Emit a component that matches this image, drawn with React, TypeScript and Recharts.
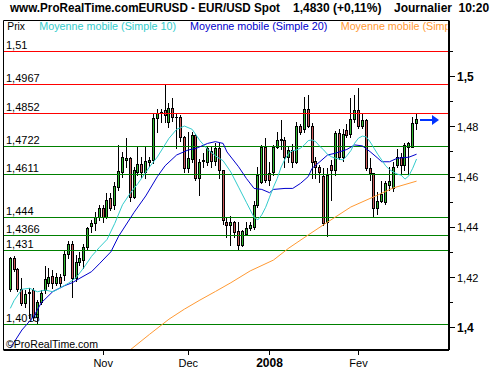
import React from 'react';
import { ComposedChart, Bar, Line, XAxis, YAxis, ReferenceLine, ReferenceDot } from 'recharts';

const FONT = '"Liberation Sans", Arial, sans-serif';

const dates = [
  '28/09/07',
  '01/10/07','02/10/07','03/10/07','04/10/07','05/10/07','08/10/07','09/10/07','10/10/07','11/10/07','12/10/07',
  '15/10/07','16/10/07','17/10/07','18/10/07','19/10/07','22/10/07','23/10/07','24/10/07','25/10/07','26/10/07',
  '29/10/07','30/10/07','31/10/07',
  '01/11/07','02/11/07','05/11/07','06/11/07','07/11/07','08/11/07','09/11/07','12/11/07','13/11/07','14/11/07',
  '15/11/07','16/11/07','19/11/07','20/11/07','21/11/07','22/11/07','23/11/07','26/11/07','27/11/07','28/11/07',
  '29/11/07','30/11/07',
  '03/12/07','04/12/07','05/12/07','06/12/07','07/12/07','10/12/07','11/12/07','12/12/07','13/12/07','14/12/07',
  '17/12/07','18/12/07','19/12/07','20/12/07','21/12/07','24/12/07','25/12/07','26/12/07','27/12/07','28/12/07',
  '31/12/07',
  '01/01/08','02/01/08','03/01/08','04/01/08','07/01/08','08/01/08','09/01/08','10/01/08','11/01/08','14/01/08',
  '15/01/08','16/01/08','17/01/08','18/01/08','21/01/08','22/01/08','23/01/08','24/01/08','25/01/08','28/01/08',
  '29/01/08','30/01/08','31/01/08',
  '01/02/08','04/02/08','05/02/08','06/02/08','07/02/08','08/02/08','11/02/08','12/02/08','13/02/08','14/02/08',
  '15/02/08','18/02/08','19/02/08','20/02/08','21/02/08','22/02/08',
];

const opens = [
  1.4155, 1.4280, 1.4234, 1.4154, 1.4100, 1.4138, 1.4150, 1.4045, 1.4105, 1.4150,
  1.4180, 1.4205, 1.4180, 1.4202, 1.4210, 1.4294, 1.4333, 1.4200, 1.4262, 1.4270,
  1.4323, 1.4405, 1.4419, 1.4443, 1.4476, 1.4443, 1.4518, 1.4490, 1.4562, 1.4621,
  1.4668, 1.4675, 1.4522, 1.4621, 1.4652, 1.4621, 1.4662, 1.4668, 1.4834, 1.4856,
  1.4866, 1.4820, 1.4874, 1.4840, 1.4840, 1.4761, 1.4635, 1.4671, 1.4767, 1.4595,
  1.4665, 1.4661, 1.4702, 1.4665, 1.4714, 1.4628, 1.4423, 1.4410, 1.4420, 1.4386,
  1.4330, 1.4374, 1.4398, 1.4403, 1.4489, 1.4582, 1.4721, 1.4615, 1.4621, 1.4718,
  1.4748, 1.4748, 1.4681, 1.4708, 1.4661, 1.4803, 1.4790, 1.4870, 1.4803, 1.4665,
  1.4641, 1.4604, 1.4423, 1.4648, 1.4628, 1.4777, 1.4681, 1.4787, 1.4770, 1.4830,
  1.4867, 1.4803, 1.4827, 1.4635, 1.4615, 1.4476, 1.4505, 1.4500, 1.4570, 1.4555,
  1.4648, 1.4681, 1.4648, 1.4721, 1.4721, 1.4814,
];

const highs = [
  1.4283, 1.4288, 1.4240, 1.4200, 1.4150, 1.4160, 1.4158, 1.4110, 1.4150, 1.4245,
  1.4240, 1.4230, 1.4220, 1.4215, 1.4310, 1.4345, 1.4345, 1.4290, 1.4303, 1.4335,
  1.4400, 1.4430, 1.4460, 1.4490, 1.4489, 1.4536, 1.4536, 1.4580, 1.4728, 1.4700,
  1.4754, 1.4680, 1.4640, 1.4721, 1.4680, 1.4721, 1.4680, 1.4850, 1.4870, 1.4870,
  1.4966, 1.4895, 1.4913, 1.4855, 1.4845, 1.4765, 1.4780, 1.4780, 1.4770, 1.4670,
  1.4695, 1.4725, 1.4725, 1.4735, 1.4735, 1.4630, 1.4440, 1.4445, 1.4425, 1.4420,
  1.4390, 1.4420, 1.4420, 1.4505, 1.4641, 1.4728, 1.4755, 1.4660, 1.4728, 1.4780,
  1.4827, 1.4760, 1.4720, 1.4730, 1.4820, 1.4810, 1.4920, 1.4926, 1.4815, 1.4680,
  1.4650, 1.4635, 1.4635, 1.4668, 1.4785, 1.4790, 1.4790, 1.4810, 1.4913, 1.4926,
  1.4953, 1.4850, 1.4830, 1.4675, 1.4615, 1.4540, 1.4585, 1.4585, 1.4640, 1.4660,
  1.4710, 1.4695, 1.4735, 1.4740, 1.4840, 1.4856,
];

const lows = [
  1.4148, 1.4225, 1.4148, 1.4090, 1.4085, 1.4040, 1.4030, 1.4015, 1.4095, 1.4140,
  1.4165, 1.4160, 1.4170, 1.4165, 1.4190, 1.4280, 1.4124, 1.4185, 1.4250, 1.4240,
  1.4310, 1.4380, 1.4390, 1.4430, 1.4423, 1.4436, 1.4470, 1.4475, 1.4550, 1.4600,
  1.4640, 1.4505, 1.4515, 1.4610, 1.4600, 1.4595, 1.4645, 1.4655, 1.4781, 1.4820,
  1.4820, 1.4800, 1.4825, 1.4714, 1.4745, 1.4620, 1.4620, 1.4660, 1.4588, 1.4529,
  1.4640, 1.4650, 1.4640, 1.4650, 1.4595, 1.4415, 1.4363, 1.4330, 1.4360, 1.4310,
  1.4325, 1.4370, 1.4390, 1.4395, 1.4480, 1.4575, 1.4580, 1.4570, 1.4610, 1.4715,
  1.4710, 1.4641, 1.4660, 1.4641, 1.4655, 1.4770, 1.4780, 1.4800, 1.4595, 1.4595,
  1.4580, 1.4410, 1.4367, 1.4509, 1.4610, 1.4670, 1.4665, 1.4760, 1.4760, 1.4820,
  1.4795, 1.4795, 1.4630, 1.4590, 1.4443, 1.4452, 1.4500, 1.4495, 1.4550, 1.4545,
  1.4640, 1.4615, 1.4628, 1.4615, 1.4718, 1.4790,
];

const closes = [
  1.4277, 1.4233, 1.4155, 1.4100, 1.4136, 1.4142, 1.4045, 1.4105, 1.4138, 1.4195,
  1.4202, 1.4180, 1.4202, 1.4178, 1.4294, 1.4333, 1.4200, 1.4264, 1.4280, 1.4323,
  1.4396, 1.4419, 1.4443, 1.4476, 1.4443, 1.4509, 1.4476, 1.4565, 1.4624, 1.4679,
  1.4675, 1.4522, 1.4628, 1.4652, 1.4621, 1.4665, 1.4668, 1.4834, 1.4856, 1.4860,
  1.4845, 1.4874, 1.4840, 1.4838, 1.4761, 1.4635, 1.4675, 1.4767, 1.4595, 1.4661,
  1.4668, 1.4714, 1.4665, 1.4714, 1.4628, 1.4429, 1.4410, 1.4420, 1.4383, 1.4330,
  1.4386, 1.4399, 1.4410, 1.4489, 1.4608, 1.4721, 1.4588, 1.4588, 1.4721, 1.4748,
  1.4752, 1.4681, 1.4708, 1.4661, 1.4803, 1.4781, 1.4870, 1.4803, 1.4661, 1.4641,
  1.4621, 1.4416, 1.4608, 1.4628, 1.4777, 1.4681, 1.4773, 1.4767, 1.4830, 1.4867,
  1.4803, 1.4827, 1.4635, 1.4615, 1.4476, 1.4505, 1.4533, 1.4578, 1.4585, 1.4641,
  1.4681, 1.4648, 1.4728, 1.4734, 1.4814, 1.4830,
];

// moving averages: [candle index, value]
const ma10Points: [number, number][] = [
  [0, 1.4078], [1, 1.4110], [3, 1.4154], [5, 1.4158], [7, 1.4144], [9, 1.4151], [11, 1.4144],
  [13, 1.4160], [15, 1.4178], [17, 1.4200], [19, 1.4240], [21, 1.4285], [23, 1.4320], [25, 1.4352],
  [27, 1.4416], [29, 1.4490], [31, 1.4536], [33, 1.4575], [36, 1.4641], [38, 1.4680], [41, 1.4754],
  [43, 1.4790], [45, 1.4803], [47, 1.4790], [49, 1.4745], [51, 1.4710], [53, 1.4685], [55, 1.4665],
  [57, 1.4620], [59, 1.4560], [61, 1.4500], [62, 1.4470], [63, 1.4440], [64, 1.4430], [65, 1.4450],
  [66, 1.4480], [67, 1.4520], [68, 1.4560], [69, 1.4595], [70, 1.4640], [71, 1.4672], [72, 1.4695],
  [73, 1.4705], [74, 1.4708], [75, 1.4715], [76, 1.4728], [77, 1.4745], [78, 1.4748], [79, 1.4740],
  [80, 1.4722], [81, 1.4708], [82, 1.4690], [83, 1.4681], [84, 1.4675], [85, 1.4672], [86, 1.4668],
  [87, 1.4685], [88, 1.4705], [89, 1.4735], [90, 1.4755], [91, 1.4763], [92, 1.4760], [93, 1.4740],
  [94, 1.4715], [95, 1.4690], [96, 1.4668], [97, 1.4645], [98, 1.4630], [99, 1.4620], [100, 1.4612],
  [101, 1.4608], [102, 1.4592], [103, 1.4605], [104, 1.4635], [105, 1.4672],
];

const ma20Points: [number, number][] = [
  [0, 1.3920], [3, 1.3992], [6, 1.4045], [8, 1.4100], [11, 1.4145], [14, 1.4168], [16, 1.4180],
  [18, 1.4198], [21, 1.4224], [23, 1.4255], [26, 1.4303], [28, 1.4365], [32, 1.4460], [35, 1.4525],
  [38, 1.4602], [40, 1.4645], [43, 1.4688], [46, 1.4708], [48, 1.4714], [51, 1.4734], [53, 1.4741],
  [55, 1.4734], [56, 1.4700], [59, 1.4641], [61, 1.4595], [63, 1.4555], [65, 1.4551], [67, 1.4538],
  [68, 1.4551], [71, 1.4555], [73, 1.4555], [75, 1.4575], [77, 1.4602], [78, 1.4635], [80, 1.4661],
  [82, 1.4688], [84, 1.4695], [87, 1.4710], [89, 1.4728], [91, 1.4724], [93, 1.4701], [95, 1.4675],
  [96, 1.4661], [98, 1.4661], [100, 1.4675], [103, 1.4679], [105, 1.4691],
];

const ma100Points: [number, number][] = [
  [30, 1.3890], [31, 1.3913], [36, 1.3975], [41, 1.4035], [45, 1.4075], [49, 1.4111], [53, 1.4145],
  [57, 1.4180], [62, 1.4227], [68, 1.4270], [72, 1.4318], [77, 1.4370], [82, 1.4421], [88, 1.4481],
  [95, 1.4529], [99, 1.4557], [105, 1.4584],
];

const levelValues = [1.51, 1.4967, 1.4852, 1.4722, 1.4611, 1.444, 1.4366, 1.431, 1.4015];
const levelLabels = ['1,51', '1,4967', '1,4852', '1,4722', '1,4611', '1,444', '1,4366', '1,431', '1,4015'];
const levelColors = ['#ff0000', '#ff0000', '#ff0000', '#008000', '#008000', '#008000', '#008000', '#008000', '#008000'];

const yTicks = [1.40, 1.41, 1.42, 1.43, 1.44, 1.45, 1.46, 1.47, 1.48, 1.49, 1.50, 1.51];
const yTickLabels = ['1,4', '', '1,42', '', '1,44', '', '1,46', '', '1,48', '', '1,5', ''];
const yBoldTicks = [1.40, 1.50];

const xTickDates = ['01/11/07', '03/12/07', '01/01/08', '01/02/08'];
const xTickLabels = ['Nov', 'Dec', '2008', 'Fev'];
const xBoldTicks = ['01/01/08'];

const lastPrice = 1.4830;
const Y_MIN = 1.39125;
const Y_MAX = 1.52227;

const GREEN = '#33bb33';
const RED = '#cc5c5c';
const CYAN = '#33cccc';
const BLUE = '#0000cc';
const ORANGE = '#ff9933';

const toMap = (pts: [number, number][]) => new Map(pts.map(([i, v]) => [i, v]));
const m10 = toMap(ma10Points);
const m20 = toMap(ma20Points);
const m100 = toMap(ma100Points);

const data = dates.map((date, i) => ({
  date,
  open: opens[i],
  high: highs[i],
  low: lows[i],
  close: closes[i],
  ma10: m10.has(i) ? m10.get(i) : null,
  ma20: m20.has(i) ? m20.get(i) : null,
  ma100: m100.has(i) ? m100.get(i) : null,
}));

const Candle = (props: any) => {
  const { x, y, width, height, payload } = props;
  if (!payload || x == null || y == null) return null;
  const { open, close, high, low } = payload;
  const top = Math.min(y, y + height);
  const bot = Math.max(y, y + height);
  const span = high - low;
  const k = span > 0 ? (bot - top) / span : 0;
  const toY = (v: number) => top + (high - v) * k;
  const cx = Math.floor(x + width / 2) + 0.5;
  const yH = Math.round(top);
  const yL = Math.round(bot);
  const yO = Math.round(toY(open));
  const yC = Math.round(toY(close));
  const bTop = Math.min(yO, yC);
  const bBot = Math.max(yO, yC);
  const up = close >= open;
  return (
    <g>
      <line x1={cx} x2={cx} y1={yH} y2={yL + 1} stroke="#000" strokeWidth={1} shapeRendering="crispEdges" />
      {bBot - bTop >= 1 ? (
        <rect x={cx - 1} y={bTop + 0.5} width={2} height={bBot - bTop} fill={up ? GREEN : RED} stroke="#000" strokeWidth={1} shapeRendering="crispEdges" />
      ) : (
        <line x1={cx - 1.5} x2={cx + 1.5} y1={bTop + 0.5} y2={bTop + 0.5} stroke="#000" strokeWidth={1} shapeRendering="crispEdges" />
      )}
    </g>
  );
};

const YTick = (p: any) => {
  const v = p.payload.value;
  const idx = yTicks.findIndex((t) => Math.abs(t - v) < 1e-6);
  const label = idx >= 0 ? yTickLabels[idx] : '';
  const bold = yBoldTicks.some((t) => Math.abs(t - v) < 1e-6);
  const axisX = p.x - 8;
  const yy = Math.floor(p.y) + 0.5;
  return (
    <g>
      <line x1={axisX} x2={axisX + (label ? 5.5 : 3.5)} y1={yy} y2={yy} stroke="#000" strokeWidth={1} shapeRendering="crispEdges" />
      {label ? (
        <text x={p.x} y={p.y + 4} fontSize={bold ? 12 : 11} fontWeight={bold ? 'bold' : 'normal'} fontFamily={FONT} fill="#000" textAnchor="start">
          {label}
        </text>
      ) : null}
    </g>
  );
};

const XTick = (p: any) => {
  const v = p.payload.value;
  const idx = xTickDates.indexOf(v);
  const label = idx >= 0 ? xTickLabels[idx] : '';
  const bold = xBoldTicks.includes(v);
  const xx = Math.floor(p.x) + 0.5;
  const axisY = p.y - 5;
  return (
    <g>
      <line x1={xx} x2={xx} y1={axisY + 1} y2={axisY + 5} stroke="#000" strokeWidth={1} shapeRendering="crispEdges" />
      <text x={p.x} y={axisY + 16.5} fontSize={bold ? 12 : 11} fontWeight={bold ? 'bold' : 'normal'} fontFamily={FONT} fill="#000" textAnchor="middle">
        {label}
      </text>
    </g>
  );
};

const Arrow = (p: any) => {
  const { cx, cy } = p;
  if (cx == null || cy == null) return null;
  const yy = Math.round(cy) + 1;
  return (
    <g>
      <rect x={Math.round(cx) + 3} y={yy - 1} width={13} height={2} fill="#0033ff" />
      <polygon points={`${Math.round(cx) + 15},${yy - 5} ${Math.round(cx) + 22},${yy} ${Math.round(cx) + 15},${yy + 5}`} fill="#0033ff" />
    </g>
  );
};

export default function App() {
  return (
    <div style={{ position: 'absolute', left: 0, top: 0, width: 500, height: 370, background: '#fff' }}>
      <ComposedChart width={500} height={370} data={data} margin={{ top: 0, right: 0, bottom: 0, left: 0 }}>
        <XAxis
          dataKey="date"
          type="category"
          ticks={xTickDates}
          interval={0}
          padding={{ left: 4.87, right: 30.5 }}
          height={20}
          axisLine={{ stroke: '#000', strokeWidth: 2 }}
          tickLine={false}
          tickSize={5}
          tickMargin={0}
          tick={<XTick />}
        />
        <XAxis xAxisId="T" dataKey="date" type="category" orientation="top" height={20.5} tick={false} tickLine={false} axisLine={{ stroke: '#000', strokeWidth: 1 }} />
        <YAxis
          orientation="right"
          type="number"
          domain={[Y_MIN, Y_MAX]}
          allowDataOverflow
          ticks={yTicks}
          interval={0}
          width={51}
          axisLine={{ stroke: '#000', strokeWidth: 2 }}
          tickLine={false}
          tickSize={5}
          tickMargin={3}
          tick={<YTick />}
        />
        <YAxis yAxisId="L" orientation="left" type="number" domain={[Y_MIN, Y_MAX]} allowDataOverflow width={3.5} tick={false} tickLine={false} axisLine={{ stroke: '#000', strokeWidth: 1 }} />
        {levelValues.map((v, i) => (
          <ReferenceLine
            key={'lvl' + i}
            y={v}
            stroke={levelColors[i]}
            shape={(p: any) => {
              const yy = Math.floor(p.y1) + 0.5;
              return <line x1={p.x1} x2={p.x2} y1={yy} y2={yy} stroke={levelColors[i]} strokeWidth={1} shapeRendering="crispEdges" />;
            }}
            label={(lp: any) => {
              const vb = lp.viewBox || {};
              return (
                <text x={(vb.x ?? 3.5) + 2.5} y={Math.floor(vb.y ?? 0) - 2.5} fontSize={11} fontFamily={FONT} fill="#000">
                  {levelLabels[i]}
                </text>
              );
            }}
          />
        ))}
        <Bar dataKey={(d: any) => [d.low, d.high]} shape={<Candle />} isAnimationActive={false} />
        <Line dataKey="ma100" stroke={ORANGE} strokeWidth={1} dot={false} connectNulls isAnimationActive={false} />
        <Line dataKey="ma20" stroke={BLUE} strokeWidth={1} dot={false} connectNulls isAnimationActive={false} />
        <Line dataKey="ma10" stroke={CYAN} strokeWidth={1} dot={false} connectNulls isAnimationActive={false} />
        <ReferenceDot x={dates[dates.length - 1]} y={lastPrice} r={0} shape={(p: any) => <Arrow {...p} />} />
      </ComposedChart>
      <svg width={500} height={370} style={{ position: 'absolute', left: 0, top: 0, pointerEvents: 'none' }}>
        <defs>
          <clipPath id="legendClip">
            <rect x={0} y={0} width={447.5} height={370} />
          </clipPath>
        </defs>
        <g fontFamily={FONT} fontWeight="bold" fontSize={12} fill="#000">
          <text x={10} y={12} textLength={270} lengthAdjust="spacingAndGlyphs">www.ProRealTime.comEURUSD - EUR/USD Spot</text>
          <text x={293} y={12}>1,4830 (+0,11%)</text>
          <text x={394} y={12}>Journalier</text>
          <text x={458.5} y={12}>10:20</text>
        </g>
        <g fontFamily={FONT} fontSize={11} clipPath="url(#legendClip)">
          <text x={7.3} y={29.5} fill="#000" textLength={17.7} lengthAdjust="spacingAndGlyphs">Prix</text>
          <text x={39.3} y={29.5} fill={CYAN} textLength={136.7} lengthAdjust="spacingAndGlyphs">Moyenne mobile (Simple 10)</text>
          <text x={190} y={29.5} fill={BLUE} textLength={137.3} lengthAdjust="spacingAndGlyphs">Moyenne mobile (Simple 20)</text>
          <text x={340.7} y={29.5} fill={ORANGE} textLength={142.7} lengthAdjust="spacingAndGlyphs">Moyenne mobile (Simple 100)</text>
        </g>
        <text x={6} y={347.5} fontFamily={FONT} fontSize={11} fill="#000" textLength={92} lengthAdjust="spacingAndGlyphs">©ProRealTime.com</text>
      </svg>
    </div>
  );
}
